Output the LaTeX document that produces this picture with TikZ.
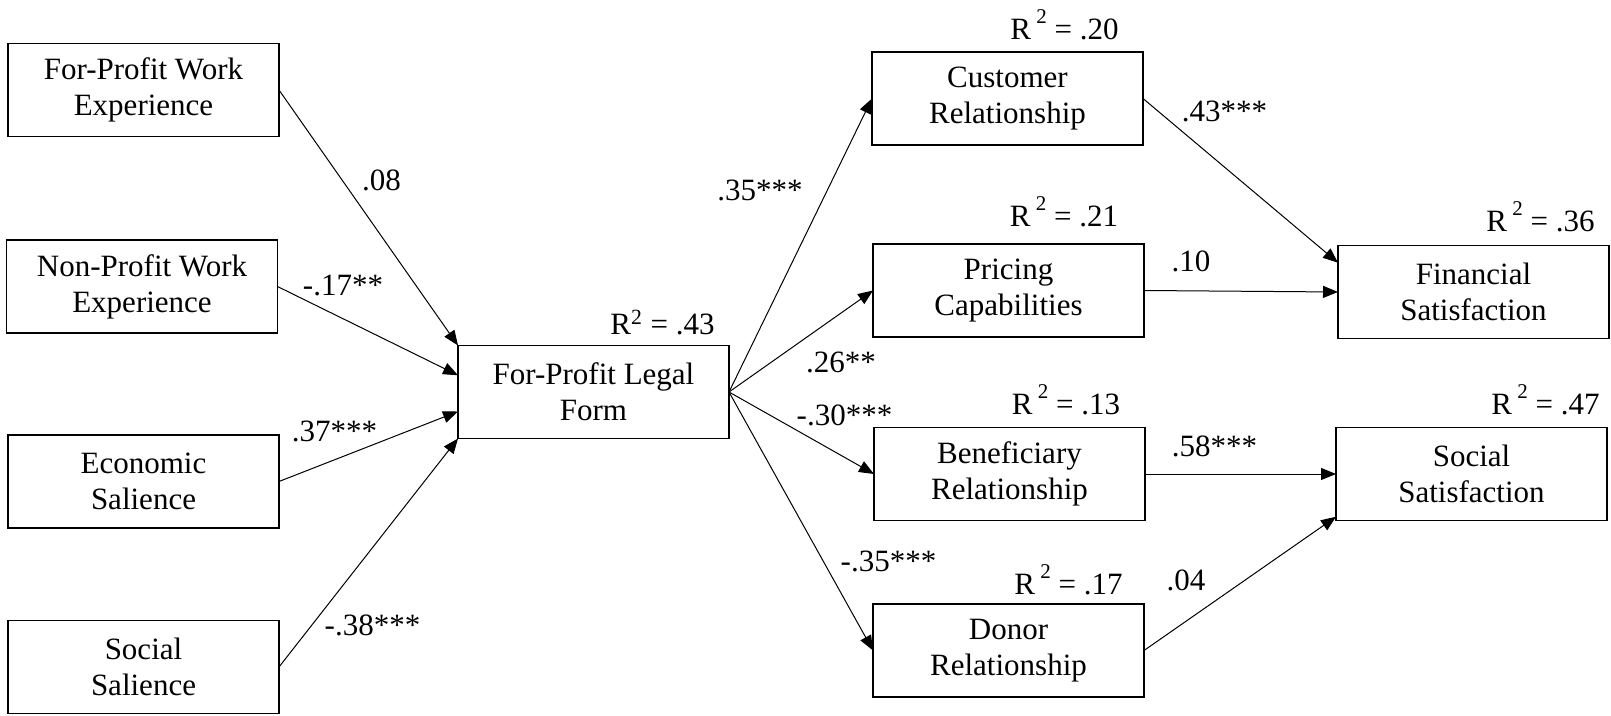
\documentclass[tikz,border=0pt]{standalone}
\usepackage{fontspec}
\setmainfont{Liberation Serif}
\usepackage{tikz,tkz-graph}
\usetikzlibrary{arrows.meta,calc}
\tikzstyle{pathBox}=[shape = rectangle, minimum width = 135.5pt, minimum height = 46.5pt, inner sep = 1pt, align = center, line width = 0.65pt, draw]
\tikzstyle{coefText}=[inner sep = 0pt, anchor = base]
\newcommand{\Rsq}{R\textsuperscript{2}}
\newcommand{\Rsqhi}{R\,\raisebox{8pt}{\fontsize{10.5}{10.5}\selectfont 2}}

\begin{document}
\begin{tikzpicture}[x = 0.5pt, y = -0.5pt, font = \fontsize{15.5}{18}\selectfont]
\tikzstyle{VertexStyle} = []
\tikzstyle{EdgeStyle} = [line width = 0.5pt, -{Triangle[length = 7.5pt, width = 6pt]}]
\tikzstyle{LabelStyle} = [fill = none]
\useasboundingbox (0,0) rectangle (1611,716);
% predictors
\Vertex[style = pathBox, x = 143.5, y = 90, L = {For-Profit Work\\Experience}]{fpw}
\Vertex[style = pathBox, x = 142, y = 286.5, L = {Non-Profit Work\\Experience}]{npw}
\Vertex[style = pathBox, x = 143.5, y = 481.5, L = {Economic\\Salience}]{eco}
\Vertex[style = pathBox, x = 143.5, y = 667, L = {Social\\Salience}]{soc}
% mediator
\Vertex[style = pathBox, x = 593.5, y = 392, L = {For-Profit Legal\\Form}]{ffl}
% capabilities
\Vertex[style = pathBox, x = 1007.5, y = 98.5, L = {Customer\\Relationship}]{cus}
\Vertex[style = pathBox, x = 1008.5, y = 290.5, L = {Pricing\\Capabilities}]{pri}
\Vertex[style = pathBox, x = 1009.5, y = 474, L = {Beneficiary\\Relationship}]{ben}
\Vertex[style = pathBox, x = 1008.5, y = 650.5, L = {Donor\\Relationship}]{don}
% outcomes
\Vertex[style = pathBox, x = 1473.5, y = 292, L = {Financial\\Satisfaction}]{fin}
\Vertex[style = pathBox, x = 1471.5, y = 474, L = {Social\\Satisfaction}]{ssat}
\coordinate (fflA) at ($(ffl.north west)!0.32!(ffl.south west)$);
\coordinate (fflB) at ($(ffl.north west)!0.71!(ffl.south west)$);
\coordinate (finA) at ($(fin.north west)!0.185!(fin.south west)$);
\coordinate (ssatA) at ($(ssat.north west)!0.96!(ssat.south west)$);
\Edge(fpw.east)(ffl.north west)
\Edge(npw.east)(fflA)
\Edge(eco.east)(fflB)
\Edge(soc.east)(ffl.south west)
\Edge(ffl.east)(cus.west)
\Edge(ffl.east)(pri.west)
\Edge(ffl.east)(ben.west)
\Edge(ffl.east)(don.west)
\Edge(cus.east)(finA)
\Edge(pri.east)(fin.west)
\Edge(ben.east)(ssat.west)
\Edge(don.east)(ssatA)
% coefficients
\node[coefText] (cFpw) at (381.5,191) {.08};
\node[coefText] (cNpw) at (343,296) {-.17**};
\node[coefText] (cEco) at (334.5,442) {.37***};
\node[coefText] (cSoc) at (372.5,635) {-.38***};
\node[coefText] (cCus) at (760,201) {.35***};
\node[coefText] (cPri) at (841,372) {.26**};
\node[coefText] (cBen) at (844.5,426) {-.30***};
\node[coefText] (cDon) at (888.5,571) {-.35***};
\node[coefText] (cFin) at (1224.5,122) {.43***};
\node[coefText] (cPrf) at (1191,272) {.10};
\node[coefText] (cBes) at (1214.5,457) {.58***};
\node[coefText] (cDos) at (1186,590) {.04};
% explained variance
\node[coefText] (rFfl) at (662.5,335) {\Rsq\ = .43};
\node[coefText] (rCus) at (1064.5,40) {\Rsqhi\ = .20};
\node[coefText] (rPri) at (1064,227) {\Rsqhi\ = .21};
\node[coefText] (rBen) at (1066,415) {\Rsqhi\ = .13};
\node[coefText] (rDon) at (1068.5,594) {\Rsqhi\ = .17};
\node[coefText] (rFin) at (1540.5,232) {\Rsqhi\ = .36};
\node[coefText] (rSsat) at (1545.5,415) {\Rsqhi\ = .47};
\end{tikzpicture}
\end{document}
